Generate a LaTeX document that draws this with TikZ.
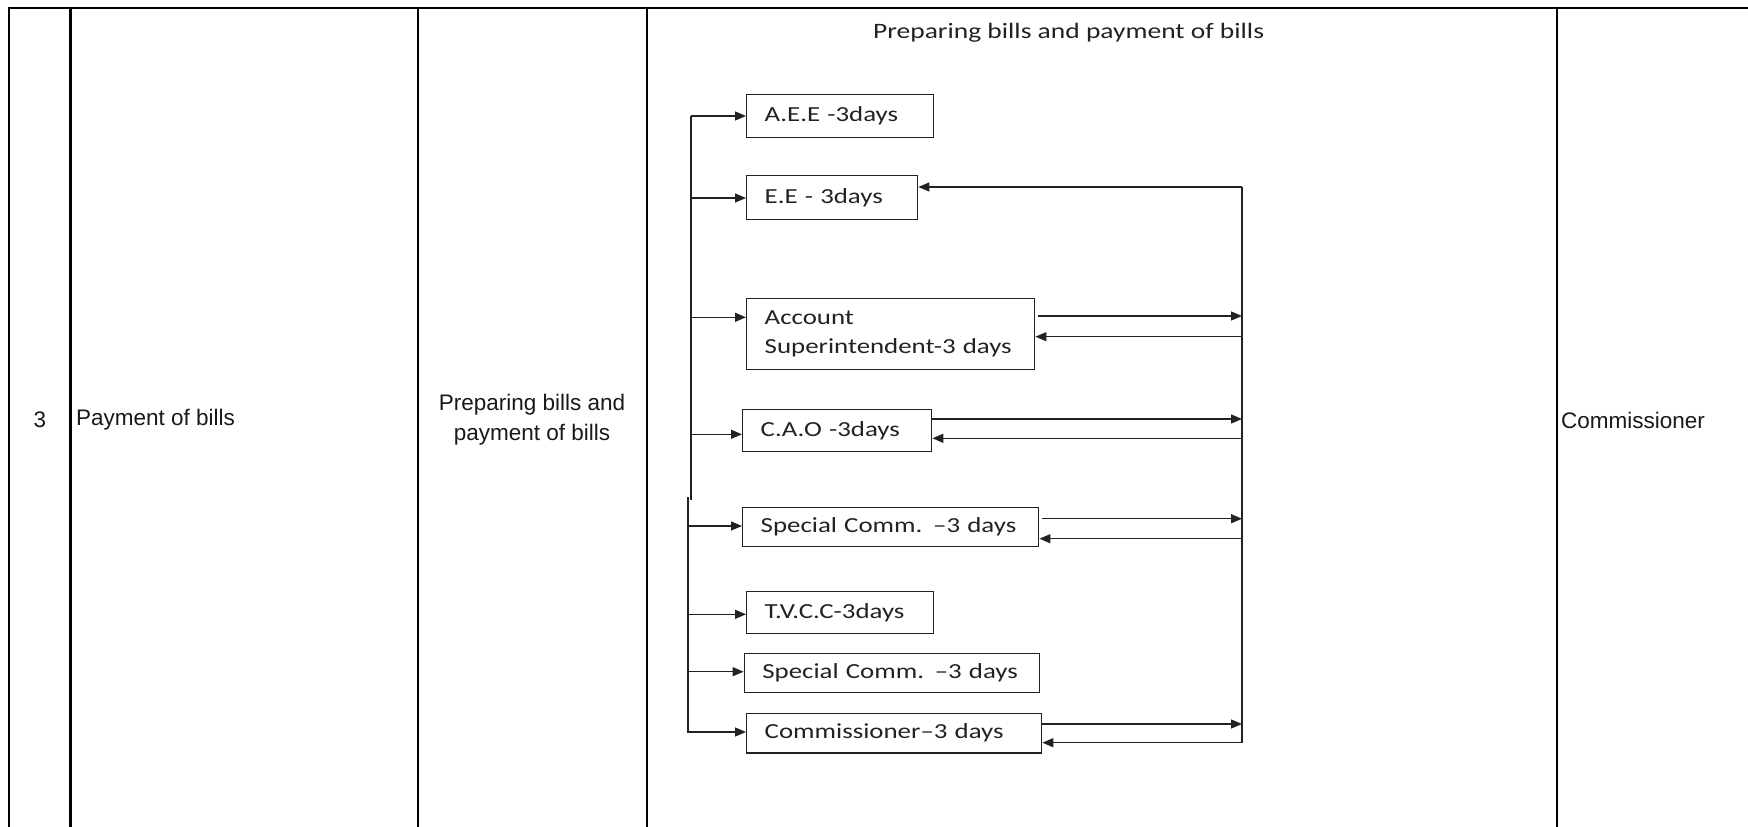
\documentclass[tikz,border=0pt]{standalone}
\usepackage{fontspec}
\setmainfont{Liberation Sans}
\newfontfamily\flowfont[FakeStretch=1.25]{Carlito}
\usetikzlibrary{arrows.meta}
\definecolor{ink}{HTML}{222222}
\begin{document}
\begin{tikzpicture}[x=1pt,y=-1pt,
  tline/.style={line width=2.6pt, black},
  fline/.style={line width=1.4pt, draw=ink},
  farr/.style={fline, -{Triangle[length=11pt,width=9pt]}},
  fbox/.style={draw=ink, line width=1.4pt, anchor=north west, inner xsep=18pt, inner ysep=0pt,
               align=left, text=ink, font=\flowfont\fontsize{21.5}{29}\selectfont},
  ttext/.style={font=\fontsize{22.5}{30}\selectfont, text=black!90, inner sep=0pt}]
\useasboundingbox (0,0) rectangle (1748,827);
\fill[white] (0,0) rectangle (1748,827);
% table frame
\draw[tline] (9,827) -- (9,8) -- (1748,8);
\foreach \x in {70.5,418,647,1557} \draw[tline] (\x,8) -- (\x,827);
% table texts
\node[ttext] (num) at (40,420) {3};
\node[ttext, anchor=west] (act) at (76,420) {Payment of bills};
\node[ttext, align=center] (desc) at (532,420) {Preparing bills and\\payment of bills};
\node[ttext, anchor=west] (auth) at (1561,420) {Commissioner};
% flowchart title
\node[anchor=west, inner sep=0pt, text=ink, font=\flowfont\fontsize{22}{26}\selectfont] (title) at (873,33) {Preparing bills and payment of bills};
% boxes
\node[fbox, text width=151pt, minimum height=43pt] (aee) at (746,94) {\mbox{A.E.E -3days}};
\node[fbox, text width=135pt, minimum height=44pt] (ee) at (746,175) {\mbox{E.E - 3days}};
\node[fbox, text width=252pt, minimum height=71pt] (acc) at (746,298) {\mbox{Account}\\\mbox{Superintendent-3 days}};
\node[fbox, text width=153pt, minimum height=42pt] (cao) at (742,408.7) {\mbox{C.A.O -3days}};
\node[fbox, text width=260pt, minimum height=39pt] (sc1) at (742,507) {\mbox{Special Comm. –3 days}};
\node[fbox, text width=151pt, minimum height=42pt] (tvcc) at (746,590.7) {\mbox{T.V.C.C-3days}};
\node[fbox, text width=259.4pt, minimum height=39.3pt] (sc2) at (743.6,652.7) {\mbox{Special Comm. –3 days}};
\node[fbox, text width=259pt, minimum height=39.6pt] (com) at (746,712.7) {\mbox{Commissioner–3 days}};
% left distribution bus
\coordinate (b1) at (691,116);
\coordinate (b2) at (691,198);
\coordinate (b3) at (691,317.3);
\coordinate (b4) at (691,434.3);
\coordinate (bj) at (691,500);
\coordinate (bk) at (688,497);
\coordinate (b5) at (688,526);
\coordinate (b6) at (688,614.3);
\coordinate (b7) at (688,671.7);
\coordinate (b8) at (686.7,732);
\draw[fline] (b1) -- (bj);
\draw[fline] (bk) -- (b8 -| bk);
\draw[draw=ink, line width=2.4pt] (bk) -- (b5);
\draw[farr] (b1) -- (b1 -| aee.west);
\draw[farr] (b2) -- (b2 -| ee.west);
\draw[farr] (b3) -- (b3 -| acc.west);
\draw[farr] (b4) -- (b4 -| cao.west);
\draw[farr] (b5) -- (b5 -| sc1.west);
\draw[farr] (b6) -- (b6 -| tvcc.west);
\draw[farr] (b7) -- (b7 -| sc2.west);
\draw[farr] (b8) -- (b8 -| com.west);
% right return bus
\coordinate (rt) at (1242,187);
\coordinate (rb) at (1242,742.7);
\coordinate (o3) at (1242,316);
\coordinate (r3) at (1242,336.7);
\coordinate (o4) at (1242,419);
\coordinate (r4) at (1242,438.3);
\coordinate (o5) at (1242,518.7);
\coordinate (r5) at (1242,538.7);
\coordinate (o8) at (1242,724);
\draw[fline] (rb) -- (rt);
\draw[farr] (rt) -- (rt -| ee.east);
\draw[farr, shorten <=3pt] (o3 -| acc.east) -- (o3);
\draw[farr] (r3) -- (r3 -| acc.east);
\draw[farr] (o4 -| cao.east) -- (o4);
\draw[farr] (r4) -- (r4 -| cao.east);
\draw[farr, shorten <=3pt] (o5 -| sc1.east) -- (o5);
\draw[farr] (r5) -- (r5 -| sc1.east);
\draw[farr] (o8 -| com.east) -- (o8);
\draw[farr] (rb) -- (rb -| com.east);
\end{tikzpicture}
\end{document}
